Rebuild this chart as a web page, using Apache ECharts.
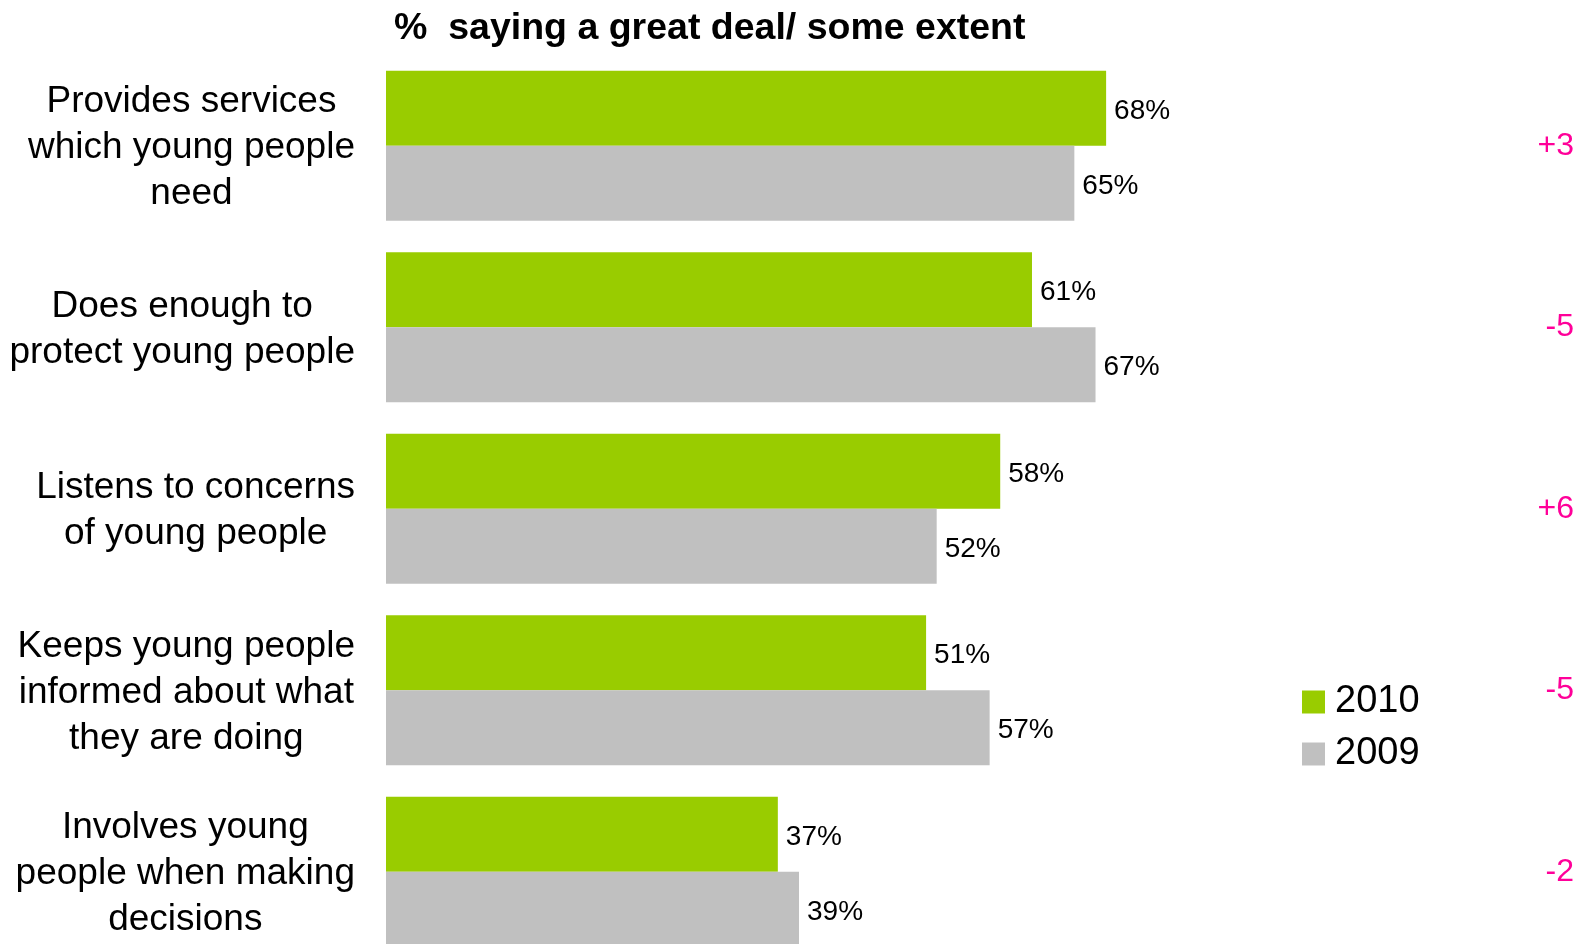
<!DOCTYPE html>
<html>
<head>
<meta charset="utf-8">
<script src="https://cdn.jsdelivr.net/npm/echarts@6/dist/echarts.min.js"></script>
<style>
html,body{margin:0;padding:0;background:#fff;overflow:hidden;}
#chart{width:1581px;height:980px;}
</style>
</head>
<body>
<div id="chart"></div>
<script>
var categories = [
  "Provides services\nwhich young people\nneed",
  "Does enough to\nprotect young people",
  "Listens to concerns\nof young people",
  "Keeps young people\ninformed about what\nthey are doing",
  "Involves young\npeople when making\ndecisions"
];
var values2010 = [68, 61, 58, 51, 37];
var values2009 = [65, 67, 52, 57, 39];
var changes = ["+3", "-5", "+6", "-5", "-2"];
var seriesNames = ["2010", "2009"];
var titleText = "%  saying a great deal/ some extent";

var FONT = "'Liberation Sans', Arial, sans-serif";
var chart = echarts.init(document.getElementById('chart'));
chart.setOption({
  backgroundColor: '#ffffff',
  animation: false,
  title: {
    text: titleText,
    left: 389,
    top: 5,
    textStyle: { fontFamily: FONT, fontSize: 37.5, fontWeight: 'bold', color: '#000' }
  },
  legend: {
    orient: 'vertical',
    left: 1297,
    top: 678,
    icon: 'rect',
    itemWidth: 23,
    itemHeight: 23,
    itemGap: 14,
    data: seriesNames,
    textStyle: { fontFamily: FONT, fontSize: 38, color: '#000', lineHeight: 38, padding: [0, 0, 0, 5] }
  },
  grid: { left: 386, top: 55, width: 1059, height: 907.5 },
  xAxis: {
    type: 'value', min: 0, max: 100,
    show: false,
    splitLine: { show: false }
  },
  yAxis: [
    {
      type: 'category',
      inverse: true,
      data: categories,
      axisLine: { show: false },
      axisTick: { show: false },
      axisLabel: {
        align: 'right', margin: 31,
        padding: [5, 0, 0, 0],
        formatter: function (v) {
          return v.split('\n').map(function (s) { return '{c|' + s + '}'; }).join('\n');
        },
        rich: {
          c: { fontFamily: FONT, fontSize: 37, lineHeight: 46, color: '#000', align: 'center' }
        }
      }
    },
    {
      type: 'category',
      inverse: true,
      position: 'right',
      data: changes,
      axisLine: { show: false },
      axisTick: { show: false },
      axisLabel: {
        fontFamily: FONT, fontSize: 32, color: '#FF0099',
        align: 'right', margin: 129
      }
    }
  ],
  series: [
    {
      name: seriesNames[0], type: 'bar', data: values2010,
      barWidth: 75, barGap: '0%',
      itemStyle: { color: '#99CC00' },
      label: { show: true, position: 'right', distance: 8, offset: [0, 3], formatter: '{c}%',
        fontFamily: FONT, fontSize: 28, color: '#000' }
    },
    {
      name: seriesNames[1], type: 'bar', data: values2009,
      barWidth: 75, barGap: '0%',
      itemStyle: { color: '#C0C0C0' },
      label: { show: true, position: 'right', distance: 8, offset: [0, 3], formatter: '{c}%',
        fontFamily: FONT, fontSize: 28, color: '#000' }
    }
  ]
});
</script>
</body>
</html>
